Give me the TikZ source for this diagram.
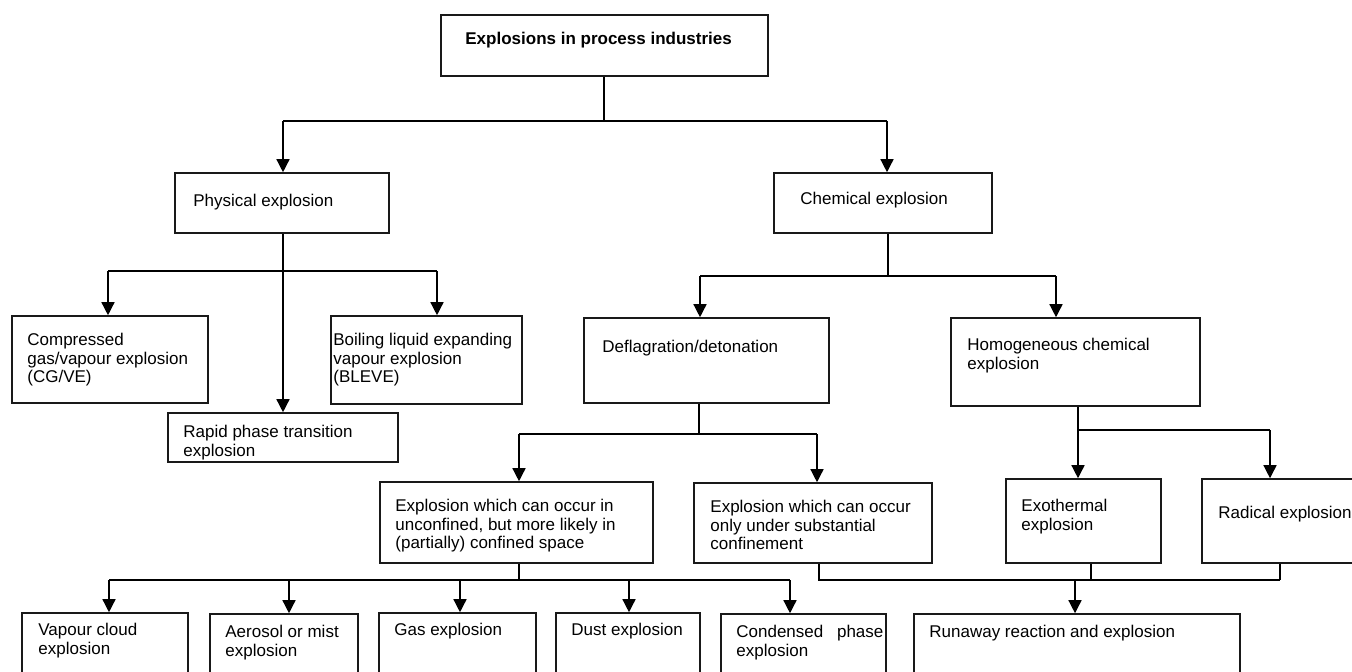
\documentclass[tikz,border=0pt]{standalone}
\usepackage{fontspec}
\setmainfont{Liberation Sans}
\usetikzlibrary{arrows.meta,fit}
\newcommand{\mkbox}[5]{\path (#2,#3) coordinate (#1-nw) (#4,#5) coordinate (#1-se); \node[boxst, fit=(#1-nw)(#1-se)] (#1) {};}
\begin{document}
\begin{tikzpicture}[x=0.5pt,y=-0.5pt,
  boxst/.style={draw=black!90, line width=0.8pt, inner sep=0pt},
  txt/.style={anchor=north west, inner sep=0pt, align=left, font=\fontsize{8.5pt}{9.25pt}\selectfont},
  conn/.style={draw=black, line width=0.7pt},
  arr/.style={conn, -{Triangle[length=6.5pt,width=6.5pt]}}]
\useasboundingbox[fill=white] (0,0) rectangle (1352,671);

% boxes
\mkbox{top}{441}{15}{768}{76}
\mkbox{phys}{175}{173}{389}{233}
\mkbox{chem}{774}{173}{992}{233}
\mkbox{comp}{12}{316}{208}{403}
\mkbox{bleve}{331}{316}{522}{404}
\mkbox{rapid}{168}{413}{398}{462}
\mkbox{defl}{584}{318}{829}{403}
\mkbox{homog}{951}{318}{1200}{406}
\mkbox{unc}{380}{482}{653}{563}
\mkbox{sub}{694}{483}{932}{563}
\mkbox{exo}{1006}{479}{1161}{563}
\mkbox{rad}{1202}{479}{1362}{563}
\mkbox{vap}{22}{613}{188}{690}
\mkbox{aer}{210}{614}{358}{690}
\mkbox{gas}{379}{613}{536}{690}
\mkbox{dust}{556}{613}{700}{690}
\mkbox{cond}{721}{614}{886}{690}
\mkbox{run}{914}{614}{1240}{690}

% texts
\node[txt] (top-t) at (465,32) {\bfseries Explosions in process industries};
\node[txt] (phys-t) at (193,194) {Physical explosion};
\node[txt] (chem-t) at (800,192) {Chemical explosion};
\node[txt] (comp-t) at (27,333) {Compressed\\gas/vapour explosion\\(CG/VE)};
\node[txt] (bleve-t) at (333,333) {Boiling liquid expanding\\vapour explosion\\(BLEVE)};
\node[txt] (rapid-t) at (183,425) {Rapid phase transition\\explosion};
\node[txt] (defl-t) at (602,340) {Deflagration/detonation};
\node[txt] (homog-t) at (967,338) {Homogeneous chemical\\explosion};
\node[txt] (unc-t) at (395,499) {Explosion which can occur in\\unconfined, but more likely in\\(partially) confined space};
\node[txt] (sub-t) at (710,500) {Explosion which can occur\\only under substantial\\confinement};
\node[txt] (exo-t) at (1021,499) {Exothermal\\explosion};
\node[txt] (rad-t) at (1218,506) {Radical explosion};
\node[txt] (vap-t) at (38,623) {Vapour cloud\\explosion};
\node[txt] (aer-t) at (225,625) {Aerosol or mist\\explosion};
\node[txt] (gas-t) at (394,623) {Gas explosion};
\node[txt] (dust-t) at (571,623) {Dust explosion};
\node[txt] (cond-t) at (736,625) {Condensed\hspace{4.5pt} phase\\explosion};
\node[txt] (run-t) at (929,625) {Runaway reaction and explosion};

% junction coordinates
\coordinate (h1) at (604,121);
\coordinate (hL) at (283,121);
\coordinate (hR) at (887,121);
\coordinate (pV) at (283,271);
\coordinate (pL) at (108,271);
\coordinate (pR) at (437,271);
\coordinate (cV) at (888,276);
\coordinate (cL) at (700,276);
\coordinate (cR) at (1056,276);
\coordinate (dV) at (699,434);
\coordinate (dL) at (519,434);
\coordinate (dR) at (817,434);
\coordinate (hV) at (1078,430);
\coordinate (hR2) at (1270,430);
\coordinate (uV) at (519,580);
\coordinate (u1) at (109,580);
\coordinate (u2) at (289,580);
\coordinate (u3) at (460,580);
\coordinate (u4) at (629,580);
\coordinate (u5) at (790,580);
\coordinate (sV) at (819,580);
\coordinate (xV) at (1091,580);
\coordinate (rV) at (1280,580);
\coordinate (rA) at (1075,580);

% level 1
\draw[conn] (top.south -| h1) -- (h1);
\draw[conn] (hL) -- (hR);
\draw[arr] (hL) -- (hL |- phys.north);
\draw[arr] (hR) -- (hR |- chem.north);

% physical
\draw[arr] (phys.south -| pV) -- (pV |- rapid.north);
\draw[conn] (pL) -- (pR);
\draw[arr] (pL) -- (pL |- comp.north);
\draw[arr] (pR) -- (pR |- bleve.north);

% chemical
\draw[conn] (chem.south -| cV) -- (cV);
\draw[conn] (cL) -- (cR);
\draw[arr] (cL) -- (cL |- defl.north);
\draw[arr] (cR) -- (cR |- homog.north);

% deflagration
\draw[conn] (defl.south -| dV) -- (dV);
\draw[conn] (dL) -- (dR);
\draw[arr] (dL) -- (dL |- unc.north);
\draw[arr] (dR) -- (dR |- sub.north);

% homogeneous
\draw[arr] (homog.south -| hV) -- (hV |- exo.north);
\draw[conn] (hV) -- (hR2);
\draw[arr] (hR2) -- (hR2 |- rad.north);

% unconfined
\draw[conn] (unc.south -| uV) -- (uV);
\draw[conn] (u1) -- (u5);
\draw[arr] (u1) -- (u1 |- vap.north);
\draw[arr] (u2) -- (u2 |- aer.north);
\draw[arr] (u3) -- (u3 |- gas.north);
\draw[arr] (u4) -- (u4 |- dust.north);
\draw[arr] (u5) -- (u5 |- cond.north);

% runaway
\draw[conn] (sub.south -| sV) -- (sV) -- (rV);
\draw[conn] (exo.south -| xV) -- (xV);
\draw[conn] (rad.south -| rV) -- (rV);
\draw[arr] (rA) -- (rA |- run.north);
\end{tikzpicture}
\end{document}
